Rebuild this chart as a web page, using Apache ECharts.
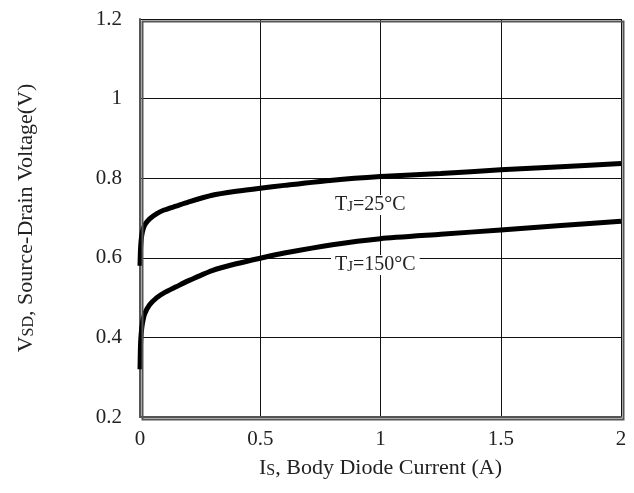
<!DOCTYPE html>
<html>
<head>
<meta charset="utf-8">
<script src="https://cdn.jsdelivr.net/npm/echarts@6/dist/echarts.min.js"></script>
<style>
html, body { margin: 0; padding: 0; background: #fff; }
#main { width: 634px; height: 493px; }
</style>
</head>
<body>
<div id="main"></div>
<script>
// Is (A)
var currentA = [0, 0.002, 0.005, 0.01, 0.02, 0.04, 0.07, 0.1, 0.15, 0.2, 0.3, 0.4, 0.5, 0.6, 0.8, 1, 1.25, 1.5, 1.75, 2];
// VSD at TJ=25°C
var vsd25 = [0.58, 0.62, 0.645, 0.665, 0.683, 0.698, 0.711, 0.72, 0.73, 0.74, 0.757, 0.767, 0.775, 0.782, 0.795, 0.804, 0.812, 0.821, 0.829, 0.837];
// VSD at TJ=150°C
var vsd150 = [0.32, 0.38, 0.41, 0.435, 0.46, 0.482, 0.5, 0.512, 0.527, 0.542, 0.568, 0.585, 0.599, 0.612, 0.633, 0.648, 0.659, 0.67, 0.681, 0.692];

function pairs(xs, ys) {
    var out = [];
    for (var i = 0; i < xs.length; i++) out.push([xs[i], ys[i]]);
    return out;
}

var font = '"Liberation Serif", "DejaVu Serif", serif';
var txt = '#222';
var myChart = echarts.init(document.getElementById('main'));

var option = {
    animation: false,
    grid: { left: 140, right: 13, top: 19, bottom: 76 },
    xAxis: {
        type: 'value',
        min: 0, max: 2, interval: 0.5,
        name: 'I{s|S}, Body Diode Current (A)',
        nameLocation: 'middle',
        nameGap: 40,
        nameTextStyle: {
            fontFamily: font, fontSize: 22, color: txt,
            rich: { s: { fontFamily: font, fontSize: 16, color: txt, padding: [5, 0, 0, 0] } }
        },
        axisLine: { show: true, lineStyle: { color: '#555', width: 2 } },
        axisTick: { show: false },
        axisLabel: { fontFamily: font, fontSize: 21, color: txt, margin: 12 },
        splitLine: { show: true, lineStyle: { color: '#111', width: 1 } }
    },
    yAxis: {
        type: 'value',
        min: 0.2, max: 1.2, interval: 0.2,
        name: 'V{s|SD}, Source-Drain Voltage(V)',
        nameLocation: 'middle',
        nameGap: 103,
        nameTextStyle: {
            fontFamily: font, fontSize: 22, color: txt,
            rich: { s: { fontFamily: font, fontSize: 16, color: txt, padding: [5, 0, 0, 0] } }
        },
        axisLine: { show: true, lineStyle: { color: '#555', width: 2 } },
        axisTick: { show: false },
        axisLabel: {
            fontFamily: font, fontSize: 21, color: txt, margin: 18,
            formatter: function (v) { return String(Math.round(v * 10) / 10); }
        },
        splitLine: { show: true, lineStyle: { color: '#111', width: 1 } }
    },
    graphic: [
        {
            type: 'rect', left: 140, top: 19, shape: { width: 481, height: 398 },
            style: { fill: 'none', stroke: '#555', lineWidth: 2 }, silent: true, z: 5
        },
        {
            type: 'text', left: 334, top: 195, z: 4,
            style: {
                text: 'T{s|J}=25°C', fontFamily: font, fontSize: 20, fill: txt,
                backgroundColor: '#fff', padding: [0, 1],
                rich: { s: { fontFamily: font, fontSize: 15, fill: txt, padding: [4, 0, 0, 0] } }
            }
        },
        {
            type: 'text', left: 331, top: 255, z: 4,
            style: {
                text: 'T{s|J}=150°C', fontFamily: font, fontSize: 20, fill: txt,
                backgroundColor: '#fff', padding: [0, 4],
                rich: { s: { fontFamily: font, fontSize: 15, fill: txt, padding: [4, 0, 0, 0] } }
            }
        }
    ],
    series: [
        {
            name: 'TJ=25°C',
            type: 'line',
            smooth: 0.2,
            symbol: 'none',
            lineStyle: { color: '#000', width: 5 },
            data: pairs(currentA, vsd25),
            z: 3
        },
        {
            name: 'TJ=150°C',
            type: 'line',
            smooth: 0.2,
            symbol: 'none',
            lineStyle: { color: '#000', width: 5 },
            data: pairs(currentA, vsd150),
            z: 3
        }
    ]
};
myChart.setOption(option);
</script>
</body>
</html>
